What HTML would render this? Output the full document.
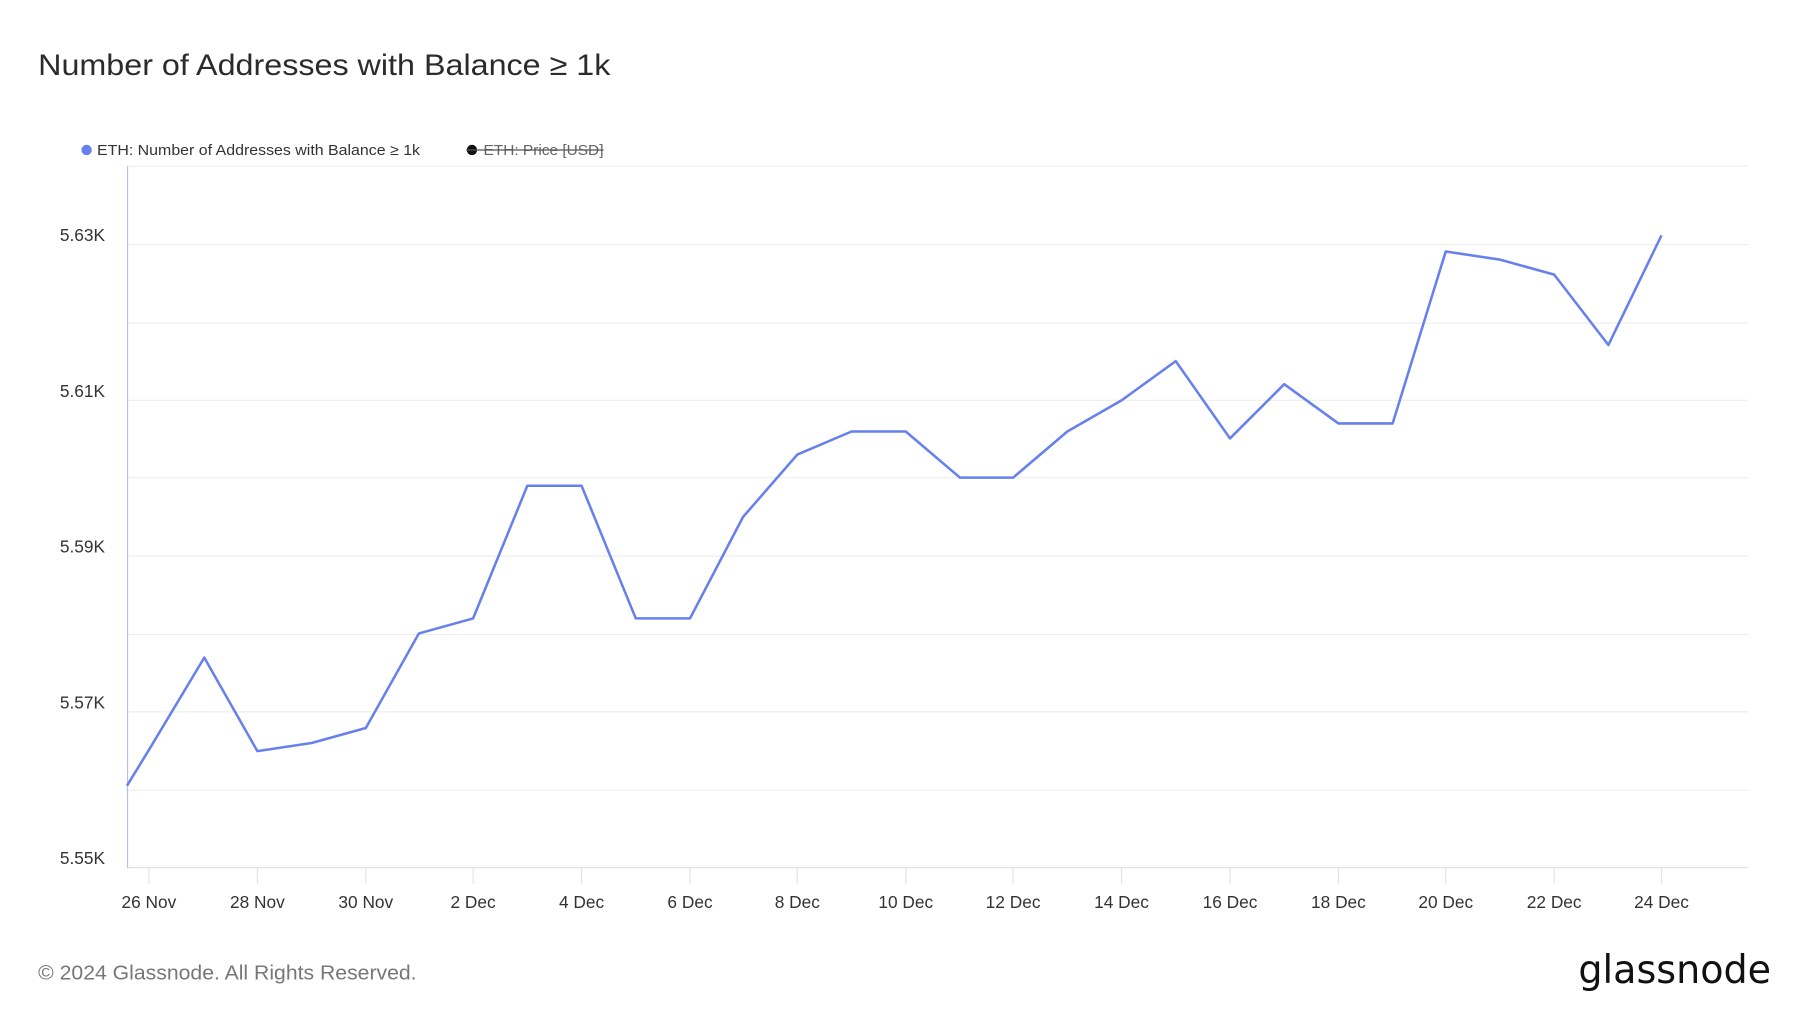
<!DOCTYPE html>
<html><head><meta charset="utf-8"><style>
html,body{margin:0;padding:0;background:#fff;}
svg{display:block;font-family:"Liberation Sans",sans-serif;}
</style></head><body>
<svg width="1800" height="1013" viewBox="0 0 1560 878" xmlns="http://www.w3.org/2000/svg">
<rect width="1560" height="878" fill="#fff"/>
<text x="33" y="65" font-size="26" fill="#2b2b2b" textLength="496" lengthAdjust="spacingAndGlyphs">Number of Addresses with Balance ≥ 1k</text>
<circle cx="75" cy="130" r="4.5" fill="#6780ee"/>
<text x="84" y="134.5" font-size="13" fill="#333" textLength="280" lengthAdjust="spacingAndGlyphs">ETH: Number of Addresses with Balance ≥ 1k</text>
<circle cx="409" cy="130" r="4.5" fill="#111"/>
<text x="419" y="134.5" font-size="13" fill="#666" textLength="104" lengthAdjust="spacingAndGlyphs">ETH: Price [USD]</text>
<line x1="404" y1="130" x2="523" y2="130" stroke="#555" stroke-width="1"/>
<g stroke="#eeeeee" stroke-width="1">
<line x1="110" y1="144" x2="1515" y2="144"/>
<line x1="110" y1="212" x2="1515" y2="212"/>
<line x1="110" y1="280" x2="1515" y2="280"/>
<line x1="110" y1="347" x2="1515" y2="347"/>
<line x1="110" y1="414" x2="1515" y2="414"/>
<line x1="110" y1="482" x2="1515" y2="482"/>
<line x1="110" y1="550" x2="1515" y2="550"/>
<line x1="110" y1="617" x2="1515" y2="617"/>
<line x1="110" y1="685" x2="1515" y2="685"/>
</g>
<line x1="110" y1="752" x2="1515" y2="752" stroke="#e3e3e3" stroke-width="1"/>
<line x1="110.5" y1="144" x2="110.5" y2="752" stroke="#b3c0f5" stroke-width="1"/>
<g stroke="#e3e3e3" stroke-width="1">
<line x1="129" y1="752" x2="129" y2="766"/><line x1="223" y1="752" x2="223" y2="766"/>
<line x1="317" y1="752" x2="317" y2="766"/><line x1="410" y1="752" x2="410" y2="766"/>
<line x1="504" y1="752" x2="504" y2="766"/><line x1="598" y1="752" x2="598" y2="766"/>
<line x1="691" y1="752" x2="691" y2="766"/><line x1="785" y1="752" x2="785" y2="766"/>
<line x1="878" y1="752" x2="878" y2="766"/><line x1="972" y1="752" x2="972" y2="766"/>
<line x1="1066" y1="752" x2="1066" y2="766"/><line x1="1160" y1="752" x2="1160" y2="766"/>
<line x1="1253" y1="752" x2="1253" y2="766"/><line x1="1347" y1="752" x2="1347" y2="766"/>
<line x1="1440" y1="752" x2="1440" y2="766"/>
</g>
<g font-size="15" fill="#333" text-anchor="end">
<text x="91" y="209">5.63K</text><text x="91" y="344">5.61K</text>
<text x="91" y="479">5.59K</text><text x="91" y="614">5.57K</text>
<text x="91" y="749">5.55K</text>
</g>
<g font-size="15" fill="#333" text-anchor="middle">
<text x="129" y="787">26 Nov</text><text x="223" y="787">28 Nov</text>
<text x="317" y="787">30 Nov</text><text x="410" y="787">2 Dec</text>
<text x="504" y="787">4 Dec</text><text x="598" y="787">6 Dec</text>
<text x="691" y="787">8 Dec</text><text x="785" y="787">10 Dec</text>
<text x="878" y="787">12 Dec</text><text x="972" y="787">14 Dec</text>
<text x="1066" y="787">16 Dec</text><text x="1160" y="787">18 Dec</text>
<text x="1253" y="787">20 Dec</text><text x="1347" y="787">22 Dec</text>
<text x="1440" y="787">24 Dec</text>
</g>
<polyline fill="none" stroke="#6780ee" stroke-width="2.2" stroke-linejoin="round"
points="110,681 129,650 177,570 223,651 270,644 317,631 363,549 410,536 457,421 504,421 551,536 598,536 644,448 691,394 738,374 785,374 832,414 878,414 925,374 972,347 1019,313 1066,380 1113,333 1160,367 1207,367 1253,218 1300,225 1347,238 1394,299 1440,204"/>
<text x="33" y="849" font-size="17.5" fill="#777" textLength="328" lengthAdjust="spacingAndGlyphs">© 2024 Glassnode. All Rights Reserved.</text>
<text x="1368" y="852" font-size="34" fill="#111" font-family="'DejaVu Sans',sans-serif" textLength="167" lengthAdjust="spacingAndGlyphs">glassnode</text>
</svg>
</body></html>
